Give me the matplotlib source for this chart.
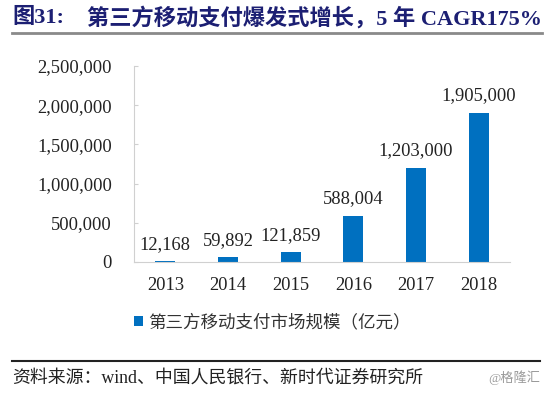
import matplotlib
matplotlib.use('Agg')
import matplotlib.pyplot as plt
from matplotlib.lines import Line2D
from matplotlib.ticker import FuncFormatter

# 数据
years = ['2013', '2014', '2015', '2016', '2017', '2018']
market_size = [12168, 59892, 121859, 588004, 1203000, 1905000]
y_ticks = [0, 500000, 1000000, 1500000, 2000000, 2500000]

title_left = '图31:'
title_right = '第三方移动支付爆发式增长，5 年 CAGR175%'
legend_label = '第三方移动支付市场规模（亿元）'
source_text = '资料来源：wind、中国人民银行、新时代证券研究所'
watermark = '@格隆汇'

plt.rcParams['font.family'] = ['Liberation Serif', 'Noto Sans CJK SC', 'DejaVu Sans']

W, H = 554, 393
fig = plt.figure(figsize=(W / 100, H / 100), dpi=100)

def fx(px):
    return px / W

def fy(py):
    return 1 - py / H

ax = fig.add_axes([fx(134), fy(262), fx(510) - fx(134), fy(66) - fy(262)])

bars = ax.bar(range(len(years)), market_size, width=0.32, color='#0070C0',
              label=legend_label)
ax.bar_label(bars, labels=[f'{v:,}' for v in market_size], padding=6,
             fontsize=13.3, color='#222222')

ax.set_xlim(-0.5, len(years) - 0.5)
ax.set_ylim(0, 2500000)
ax.set_yticks(y_ticks)
ax.yaxis.set_major_formatter(FuncFormatter(lambda v, p: f'{int(v):,}'))
ax.set_xticks(range(len(years)))
ax.set_xticklabels(years)

ax.tick_params(axis='y', direction='in', length=3, color='#d0d0d0',
               labelsize=13.3, pad=16, labelcolor='#222222')
ax.tick_params(axis='x', length=0, labelsize=13.3, pad=11, labelcolor='#222222')

for s in ['top', 'right']:
    ax.spines[s].set_visible(False)
ax.spines['left'].set_color('#d0d0d0')
ax.spines['bottom'].set_color('#d0d0d0')

# 图例
fig.legend(loc='center left', bbox_to_anchor=(fx(118), fy(323)), frameon=False,
           handlelength=0.55, handleheight=0.55, handletextpad=0.3,
           prop={'size': 12.6}, labelcolor='#333333')

# 标题
fig.text(fx(12), fy(18), title_left, fontsize=16, fontweight='bold',
         color='#1c1f73', va='center', ha='left')
fig.text(fx(87), fy(18), title_right, fontsize=16, fontweight='bold',
         color='#1c1f73', va='center', ha='left')
fig.add_artist(Line2D([fx(12), fx(542)], [fy(33), fy(33)], color='#8a8a8a', lw=2))

# 来源
fig.add_artist(Line2D([fx(12), fx(540)], [fy(361), fy(361)], color='#222222', lw=1.5))
fig.text(fx(12), fy(378), source_text, fontsize=12.9, color='#222222',
         va='center', ha='left')
fig.text(fx(540), fy(378), watermark, fontsize=9.5, color='#9a9a9a',
         va='center', ha='right')

fig.savefig('out.png', dpi=100)
